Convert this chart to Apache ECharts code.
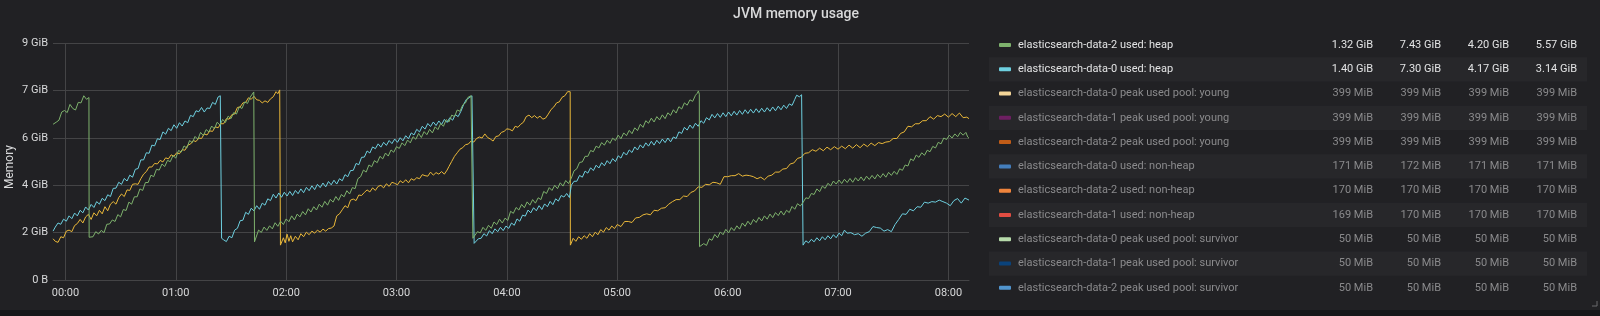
<!DOCTYPE html>
<html>
<head>
<meta charset="utf-8">
<script src="https://cdn.jsdelivr.net/npm/echarts@6/dist/echarts.min.js"></script>
<style>
html,body{margin:0;padding:0;background:#161719;}
#chart{width:1600px;height:316px;}
</style>
</head>
<body>
<div id="chart"></div>
<script>
// ---- data (minutes from 00:00, GiB) ----
const data2Heap = [
[-6.7,6.12],[-5,6.20],[-3.5,6.28],[-2,6.60],[-0.5,6.66],[1,6.58],[2.5,6.90],[4,6.74],[5.5,6.68],[7,6.98],[8.5,6.96],[10,7.24],[11.5,7.10],[12.8,7.17],[12.9,1.68],
[13.5,1.73],[15,1.70],[16.5,1.90],[18,1.81],[19.5,1.95],[21,1.86],[22.5,2.19],[24,2.20],[25.5,2.36],[27,2.30],[28.5,2.57],[30,2.48],[31.5,2.77],[33,2.73],[34.5,3.06],[36,2.98],[37.5,3.27],[39,3.27],[40.5,3.58],[42,3.52],[43.5,3.83],[45,3.83],[46.5,4.12],[48,4.06],[49.5,4.35],[51,4.32],[52.5,4.56],[54,4.46],[55.5,4.70],[57,4.65],[58.5,4.89],[60,4.79],[61.5,5.09],[63,5.03],[64.5,5.27],[66,5.18],[67.5,5.48],[69,5.40],[70.5,5.64],[72,5.53],[73.5,5.80],[75,5.67],[76.5,5.91],[78,5.82],[79.5,6.05],[81,5.94],[82.5,6.20],[84,6.09],[85.5,6.31],[87,6.19],[88.5,6.44],[90,6.34],[91.5,6.58],[93,6.52],[94.5,6.80],[96,6.74],[97.5,7.00],[99,6.94],[100.5,7.19],[101.5,7.15],[102.4,7.39],[102.8,1.50],
[103.5,1.55],[105,1.96],[106.5,1.87],[108,2.08],[109.5,1.95],[111,2.13],[112.5,2.01],[114,2.25],[115.5,2.11],[117,2.31],[118.5,2.18],[120,2.40],[121.5,2.29],[123,2.52],[124.5,2.36],[126,2.59],[127.5,2.48],[129,2.69],[130.5,2.56],[132,2.80],[133.5,2.67],[135,2.88],[136.5,2.75],[138,2.98],[139.5,2.86],[141,3.09],[142.5,2.94],[144,3.17],[145.5,3.06],[147,3.28],[148.5,3.13],[150,3.36],[151.5,3.27],[153,3.51],[154.5,3.38],[156,3.63],[157.5,3.59],[159,3.98],[160.5,4.06],[162,4.32],[163.5,4.24],[165,4.52],[166.5,4.45],[168,4.69],[169.5,4.61],[171,4.86],[172.5,4.76],[174,4.99],[175.5,4.87],[177,5.11],[178.5,5.02],[180,5.24],[181.5,5.17],[183,5.39],[184.5,5.28],[186,5.50],[187.5,5.39],[189,5.63],[190.5,5.53],[192,5.76],[193.5,5.60],[195,5.83],[196.5,5.71],[198,5.92],[199.5,5.78],[201,6.02],[202.5,5.91],[204,6.15],[205.5,6.04],[207,6.30],[208.5,6.21],[210,6.48],[211.5,6.42],[213,6.68],[214.5,6.63],[216,6.88],[217.5,6.96],[219,7.19],[220.5,7.24],[221.3,7.18],[221.5,1.64],
[222.5,1.70],[224,1.90],[225.5,1.85],[227,2.07],[228.5,1.95],[230,2.15],[231.5,2.03],[233,2.28],[234.5,2.18],[236,2.39],[237.5,2.24],[239,2.43],[240.5,2.34],[242,2.70],[243.5,2.62],[245,2.85],[246.5,2.75],[248,2.97],[249.5,2.84],[251,3.07],[252.5,2.94],[254,3.16],[255.5,3.02],[257,3.23],[258.5,3.16],[260,3.48],[261.5,3.40],[263,3.63],[264.5,3.52],[266,3.72],[267.5,3.59],[269,3.82],[270.5,3.69],[272,3.91],[273.5,3.79],[275,4.00],[276.5,4.29],[278,4.37],[279.5,4.62],[281,4.64],[282.5,4.86],[284,4.86],[285.5,5.09],[287,5.04],[288.5,5.26],[290,5.19],[291.5,5.40],[293,5.30],[294.5,5.49],[296,5.37],[297.5,5.57],[299,5.48],[300.5,5.69],[302,5.55],[303.5,5.78],[305,5.67],[306.5,5.88],[308,5.75],[309.5,5.98],[311,5.87],[312.5,6.12],[314,6.00],[315.5,6.26],[317,6.16],[318.5,6.36],[320,6.21],[321.5,6.42],[323,6.29],[324.5,6.49],[326,6.34],[327.5,6.57],[329,6.47],[330.5,6.69],[332,6.56],[333.5,6.81],[335,6.72],[336.5,6.96],[338,6.87],[339.5,7.08],[341,7.02],[342.5,7.26],[343.5,7.34],[344.1,7.43],[344.6,7.30],[344.7,1.31],
[345.5,1.33],[347,1.43],[348.5,1.36],[350,1.62],[351.5,1.56],[353,1.79],[354.5,1.66],[356,1.89],[357.5,1.78],[359,1.99],[360.5,1.85],[362,2.06],[363.5,1.94],[365,2.13],[366.5,2.00],[368,2.24],[369.5,2.11],[371,2.31],[372.5,2.17],[374,2.38],[375.5,2.26],[377,2.46],[378.5,2.32],[380,2.52],[381.5,2.39],[383,2.59],[384.5,2.45],[386,2.65],[387.5,2.53],[389,2.71],[390.5,2.55],[392,2.74],[393.5,2.65],[395,2.89],[396.5,2.78],[398,3.00],[399.5,2.91],[401,3.05],[402.5,3.23],[404,3.20],[405.5,3.40],[407,3.36],[408.5,3.58],[410,3.47],[411.5,3.69],[413,3.60],[414.5,3.80],[416,3.70],[417.5,3.89],[419,3.77],[420.5,3.93],[422,3.79],[423.5,3.96],[425,3.83],[426.5,3.99],[428,3.84],[429.5,4.02],[431,3.89],[432.5,4.05],[434,3.90],[435.5,4.08],[437,3.95],[438.5,4.11],[440,3.97],[441.5,4.15],[443,4.02],[444.5,4.18],[446,4.04],[447.5,4.23],[449,4.11],[450.5,4.27],[452,4.15],[453.5,4.37],[455,4.31],[456.5,4.52],[458,4.48],[459.5,4.76],[461,4.69],[462.5,4.91],[464,4.82],[465.5,5.00],[467,4.90],[468.5,5.10],[470,5.04],[471.5,5.25],[473,5.19],[474.5,5.41],[476,5.35],[477.5,5.58],[479,5.52],[480.5,5.69],[482,5.58],[483.5,5.74],[485,5.63],[486.5,5.80],[488,5.69],[489.5,5.80],[490.5,5.62],[491.2,5.57]
];
const data0Heap = [
[-6.7,1.92],[-5.5,2.08],[-4,2.24],[-2.5,2.19],[-1,2.39],[0.5,2.31],[2,2.52],[3.5,2.41],[5,2.63],[6.5,2.52],[8,2.74],[9.5,2.64],[11,2.87],[12.5,2.75],[14,2.97],[15.5,2.85],[17,3.08],[18.5,2.98],[20,3.21],[21.5,3.12],[23,3.35],[24.5,3.28],[26,3.60],[27.5,3.61],[29,3.84],[30.5,3.76],[32,3.99],[33.5,3.89],[35,4.12],[36.5,4.04],[38,4.35],[39.5,4.38],[41,4.72],[42.5,4.72],[44,5.00],[45.5,4.98],[47,5.30],[48.5,5.27],[50,5.55],[51.5,5.52],[53,5.82],[54.5,5.73],[56,5.96],[57.5,5.87],[59,6.10],[60.5,5.96],[62,6.18],[63.5,6.05],[65,6.25],[66.5,6.18],[68,6.47],[69.5,6.42],[71,6.65],[72.5,6.61],[74,6.78],[75.5,6.60],[77,6.76],[78.5,6.74],[80,6.98],[81.5,6.90],[83,7.19],[84.2,7.24],[84.8,7.20],[84.9,1.64],
[86,1.58],[87.5,1.51],[89,1.72],[90.5,1.66],[92,1.96],[93.5,2.03],[95,2.33],[96.5,2.35],[98,2.66],[99.5,2.58],[101,2.82],[102.5,2.72],[104,2.92],[105.5,2.78],[107,3.02],[108.5,2.94],[110,3.19],[111.5,3.12],[113,3.37],[114.5,3.22],[116,3.42],[117.5,3.25],[119,3.45],[120.5,3.30],[122,3.48],[123.5,3.32],[125,3.52],[126.5,3.39],[128,3.58],[129.5,3.43],[131,3.64],[132.5,3.51],[134,3.70],[135.5,3.55],[137,3.76],[138.5,3.63],[140,3.81],[141.5,3.66],[143,3.87],[144.5,3.74],[146,3.92],[147.5,3.77],[149,3.98],[150.5,3.90],[152,4.14],[153.5,4.06],[155,4.30],[156.5,4.31],[158,4.58],[159.5,4.53],[161,4.82],[162.5,4.83],[164,5.07],[165.5,4.99],[167,5.23],[168.5,5.16],[170,5.35],[171.5,5.22],[173,5.41],[174.5,5.29],[176,5.48],[177.5,5.36],[179,5.54],[180.5,5.41],[182,5.59],[183.5,5.47],[185,5.67],[186.5,5.55],[188,5.78],[189.5,5.70],[191,5.92],[192.5,5.82],[194,6.04],[195.5,5.93],[197,6.15],[198.5,6.03],[200,6.21],[201.5,6.07],[203,6.25],[204.5,6.11],[206,6.31],[207.5,6.19],[209,6.38],[210.5,6.28],[212,6.50],[213.5,6.42],[215,6.63],[216.5,6.90],[218,7.10],[219.5,7.16],[221,7.24],[222,7.18],[222.2,1.44],
[223,1.44],[224.5,1.62],[226,1.64],[227.5,1.82],[229,1.73],[230.5,1.94],[232,1.82],[233.5,2.01],[235,1.90],[236.5,2.07],[238,1.94],[239.5,2.12],[241,2.03],[242.5,2.24],[244,2.15],[245.5,2.40],[247,2.31],[248.5,2.55],[250,2.51],[251.5,2.75],[253,2.64],[254.5,2.84],[256,2.72],[257.5,2.92],[259,2.77],[260.5,2.99],[262,2.88],[263.5,3.09],[265,2.96],[266.5,3.19],[268,3.10],[269.5,3.32],[271,3.26],[272.5,3.40],[274,3.24],[275,3.72],[276.5,3.88],[278,3.88],[279.5,4.11],[281,4.04],[282.5,4.28],[284,4.20],[285.5,4.41],[287,4.30],[288.5,4.51],[290,4.40],[291.5,4.61],[293,4.49],[294.5,4.69],[296,4.57],[297.5,4.77],[299,4.65],[300.5,4.88],[302,4.79],[303.5,5.02],[305,4.91],[306.5,5.11],[308,5.01],[309.5,5.23],[311,5.11],[312.5,5.31],[314,5.19],[315.5,5.39],[317,5.26],[318.5,5.45],[320,5.30],[321.5,5.49],[323,5.36],[324.5,5.54],[326,5.40],[327.5,5.58],[329,5.43],[330.5,5.62],[332,5.56],[333.5,5.82],[335,5.76],[336.5,6.00],[338,5.89],[339.5,6.09],[341,5.96],[342.5,6.16],[344,6.04],[345.5,6.26],[347,6.16],[348.5,6.38],[350,6.29],[351.5,6.51],[353,6.37],[354.5,6.54],[356,6.39],[357.5,6.57],[359,6.42],[360.5,6.60],[362,6.45],[363.5,6.63],[365,6.48],[366.5,6.66],[368,6.51],[369.5,6.69],[371,6.54],[372.5,6.71],[374,6.56],[375.5,6.73],[377,6.58],[378.5,6.75],[380,6.60],[381.5,6.77],[383,6.63],[384.5,6.80],[386,6.65],[387.5,6.83],[389,6.69],[390.5,6.87],[392,6.74],[393.5,6.92],[395,6.86],[396.5,7.10],[397.5,7.26],[399,7.20],[400.2,7.28],[400.9,7.26],[401,1.37],
[401.5,1.40],[402.5,1.54],[404,1.46],[405.5,1.60],[407,1.50],[408.5,1.66],[410,1.54],[411.5,1.70],[413,1.58],[414.5,1.74],[416,1.62],[417.5,1.78],[419,1.66],[420.5,1.84],[422,1.74],[423.5,1.96],[425,1.84],[427,1.86],[429,1.78],[431,1.82],[433,1.72],[435,1.84],[437,1.90],[439,2.10],[441,2.06],[443,2.04],[445,1.92],[447,1.98],[449,1.90],[451,2.18],[453,2.38],[455,2.60],[457,2.58],[459,2.78],[461,2.72],[463,2.88],[465,2.86],[467,3.06],[469,3.02],[471,3.08],[473,3.06],[475,3.14],[477,3.08],[479,3.02],[481,2.92],[483,3.12],[485,3.20],[487,3.02],[489,3.22],[491.2,3.14]
];
const data1Heap = [
[-6.7,1.62],[-5.5,1.52],[-4,1.48],[-2.5,1.70],[-1,1.66],[0.5,1.92],[2,1.96],[3.5,1.90],[5,2.14],[6.5,2.22],[8,2.38],[9.5,2.24],[11,2.48],[12.5,2.58],[14,2.38],[15.5,2.64],[17,2.52],[18.5,2.74],[20,2.60],[21.5,2.88],[23,2.72],[24.5,2.98],[26,3.08],[27.5,2.98],[29,3.24],[30.5,3.38],[32,3.28],[33.5,3.54],[35,3.52],[36.5,3.76],[38,3.78],[39.5,3.76],[41,3.98],[42.5,4.16],[44,4.26],[45.5,4.44],[47,4.44],[48.5,4.58],[50,4.56],[51.5,4.70],[53,4.64],[54.5,4.80],[56,4.76],[57.5,4.92],[59,4.86],[60.5,5.00],[62,4.96],[63.5,5.12],[65,5.10],[66.5,5.30],[68,5.34],[69.5,5.48],[71,5.44],[72.5,5.58],[74,5.56],[75.5,5.74],[77,5.70],[78.5,5.86],[80,5.84],[81.5,6.02],[83,5.98],[84.5,6.14],[86,6.14],[87.5,6.34],[89,6.32],[90.5,6.50],[92,6.52],[93.5,6.78],[95,6.80],[96.5,6.96],[98,6.98],[99.5,7.16],[101,7.10],[102.5,7.22],[104,7.08],[105.5,7.06],[107,6.96],[108.5,7.04],[110,6.98],[111.5,7.12],[113,7.20],[114.5,7.40],[115.5,7.32],[116.5,7.47],[116.9,1.37],
[117.5,1.40],[118.5,1.66],[119.5,1.46],[120.5,1.80],[121.5,1.52],[122.5,1.74],[123.5,1.50],[125,1.72],[126.5,1.58],[128,1.82],[129.5,1.70],[131,1.88],[132.5,1.78],[134,1.92],[135.5,1.84],[137,1.96],[138.5,1.88],[140,2.00],[141.5,1.92],[143,2.02],[144.5,2.04],[146,2.12],[147.5,2.52],[149,2.60],[150.5,2.76],[152,2.92],[153.5,2.84],[155,3.14],[156.5,3.18],[158,3.12],[159.5,3.34],[161,3.32],[162.5,3.44],[164,3.54],[165.5,3.46],[167,3.62],[168.5,3.52],[170,3.68],[171.5,3.72],[173,3.62],[174.5,3.78],[176,3.68],[177.5,3.84],[179,3.80],[180.5,3.74],[182,3.90],[183.5,3.82],[185,3.94],[186.5,3.82],[188,3.98],[189.5,3.92],[191,4.02],[192.5,3.98],[194,4.14],[195.5,4.10],[197,4.08],[198.5,4.24],[200,4.12],[201.5,4.22],[203,4.16],[204.5,4.26],[206,4.16],[207.5,4.32],[208.5,4.46],[210,4.66],[211.5,4.86],[213,5.00],[214.5,5.14],[216,5.20],[217.5,5.32],[219,5.34],[220.5,5.46],[222,5.42],[223.5,5.56],[225,5.62],[226.5,5.58],[228,5.74],[229.5,5.60],[231,5.54],[232.5,5.46],[234,5.64],[235.5,5.66],[237,5.80],[238.5,5.84],[240,5.94],[241.5,5.92],[243,5.86],[244.5,6.04],[246,6.00],[247.5,6.12],[249,6.20],[250.5,6.42],[252,6.48],[253.5,6.38],[255,6.46],[256.5,6.36],[258,6.44],[259.5,6.32],[261,6.36],[262.5,6.52],[264,6.70],[265.5,6.80],[267,6.96],[268.5,7.00],[270,7.18],[271.5,7.24],[273,7.40],[274,7.45],[274.4,7.40],[274.5,1.37],
[275,1.45],[276,1.64],[277.5,1.52],[279,1.70],[280.5,1.60],[282,1.74],[283.5,1.64],[285,1.82],[286.5,1.70],[288,1.88],[289.5,1.78],[291,1.98],[292.5,1.88],[294,2.06],[295.5,1.96],[297,2.12],[298.5,2.02],[300,2.18],[302,2.10],[304,2.30],[306,2.30],[308,2.26],[310,2.44],[312,2.46],[314,2.56],[316,2.60],[318,2.56],[320,2.74],[322,2.72],[324,2.82],[326,2.84],[328,2.98],[330,3.08],[332,3.16],[334,3.16],[336,3.30],[338,3.28],[340,3.44],[342,3.50],[344,3.66],[346,3.64],[348,3.76],[350,3.74],[352,3.84],[354,3.82],[356,3.76],[358,4.06],[360,4.06],[362,4.10],[364,4.10],[366,4.18],[368,4.08],[370,4.12],[372,4.10],[374,4.06],[376,3.98],[378,4.04],[380,3.94],[382,4.08],[384,4.12],[386,4.24],[388,4.24],[390,4.36],[392,4.38],[394,4.56],[396,4.60],[398,4.78],[400,4.82],[402,4.98],[404,5.00],[406,5.12],[408,5.06],[410,5.18],[412,5.08],[414,5.22],[416,5.12],[418,5.24],[420,5.14],[422,5.26],[424,5.16],[426,5.30],[428,5.18],[430,5.32],[432,5.20],[434,5.34],[436,5.24],[438,5.38],[440,5.28],[442,5.40],[444,5.36],[446,5.42],[448,5.44],[450,5.56],[452,5.56],[454,5.76],[456,5.82],[458,6.04],[460,6.02],[462,6.14],[464,6.14],[466,6.26],[468,6.26],[470,6.42],[472,6.32],[474,6.46],[476,6.42],[478,6.52],[480,6.40],[482,6.54],[484,6.42],[486,6.56],[488,6.38],[490,6.40],[491.2,6.34]
];

const xRange = [-6.74, 491.2];            // minutes
const hourTicks = [0, 1, 2, 3, 4, 5, 6, 7, 8];
const yTickStep = 2e9 / Math.pow(2, 30);   // 2 GB in GiB
const yTickCount = 5;

const legendNames = [
  'elasticsearch-data-2 used: heap',
  'elasticsearch-data-0 used: heap',
  'elasticsearch-data-0 peak used pool: young',
  'elasticsearch-data-1 peak used pool: young',
  'elasticsearch-data-2 peak used pool: young',
  'elasticsearch-data-0 used: non-heap',
  'elasticsearch-data-2 used: non-heap',
  'elasticsearch-data-1 used: non-heap',
  'elasticsearch-data-0 peak used pool: survivor',
  'elasticsearch-data-1 peak used pool: survivor',
  'elasticsearch-data-2 peak used pool: survivor'
];
const legendMin = ['1.32 GiB','1.40 GiB','399 MiB','399 MiB','399 MiB','171 MiB','170 MiB','169 MiB','50 MiB','50 MiB','50 MiB'];
const legendMax = ['7.43 GiB','7.30 GiB','399 MiB','399 MiB','399 MiB','172 MiB','170 MiB','170 MiB','50 MiB','50 MiB','50 MiB'];
const legendAvg = ['4.20 GiB','4.17 GiB','399 MiB','399 MiB','399 MiB','171 MiB','170 MiB','170 MiB','50 MiB','50 MiB','50 MiB'];
const legendCur = ['5.57 GiB','3.14 GiB','399 MiB','399 MiB','399 MiB','171 MiB','170 MiB','170 MiB','50 MiB','50 MiB','50 MiB'];
const legendOn  = [true,true,false,false,false,false,false,false,false,false,false];

// ---- styles ----
const legendColors = ['#7EB26D','#6ED0E0','#F4D598','#6D1F62','#C15C17','#447EBC','#EF843C','#E24D42','#B7DBAB','#0A437C','#5195CE'];
const lineColors = {green:'#7EB26D', cyan:'#6ED0E0', yellow:'#EAB839'};
const GRID = '#444446';

const base = new Date(2020, 0, 1, 0, 0, 0).getTime();
const toTime = arr => arr.map(p => [base + p[0] * 60000, p[1]]);
const pad = n => (n < 10 ? '0' : '') + n;

const FONT = 'Roboto, "Noto Sans", sans-serif';
const graphics = [];
graphics.push({type:'rect', silent:true, shape:{x:0, y:310, width:1600, height:6}, style:{fill:'#161719'}});
graphics.push({type:'text', silent:true, x:796, y:14, style:{text:'JVM memory usage', font:'500 14px ' + FONT, fill:'#d8d9da', align:'center', verticalAlign:'middle', textAlign:'center', textVerticalAlign:'middle'}});
graphics.push({type:'text', silent:true, x:10, y:167, rotation:Math.PI/2, style:{text:'Memory', font:'12px ' + FONT, fill:'#d8d9da', align:'center', verticalAlign:'middle', textAlign:'center', textVerticalAlign:'middle'}});

const rowY0 = 45, rowH = 24.28;
const colX = [1373, 1441, 1509, 1577];
legendNames.forEach((name, i) => {
  const cy = rowY0 + i * rowH;
  if (i % 2 === 1) {
    graphics.push({type:'rect', silent:true, shape:{x:989, y:cy - rowH/2, width:598, height:rowH}, style:{fill:'#27272a'}});
  }
  graphics.push({type:'rect', silent:true, shape:{x:999, y:cy - 2, width:12, height:4, r:1}, style:{fill:legendColors[i]}});
  const fill = legendOn[i] ? '#e2e3e4' : '#8a8a8c';
  graphics.push({type:'text', silent:true, x:1018, y:cy, style:{text:name, font:'11px ' + FONT, fill:fill, align:'left', verticalAlign:'middle', textAlign:'left', textVerticalAlign:'middle'}});
  [legendMin[i], legendMax[i], legendAvg[i], legendCur[i]].forEach((v, k) => {
    graphics.push({type:'text', silent:true, x:colX[k], y:cy, style:{text:v, font:'11px ' + FONT, fill:fill, align:'right', verticalAlign:'middle', textAlign:'right', textVerticalAlign:'middle'}});
  });
});
graphics.push({type:'polyline', silent:true, shape:{points:[[1597,301],[1597,306],[1592,306]]}, style:{stroke:'#6a6a6c', lineWidth:1, fill:null}});

const chart = echarts.init(document.getElementById('chart'), null, {renderer:'canvas'});
const mkSeries = (name, arr, color, extra) => Object.assign({
  name, type:'line', data:toTime(arr), showSymbol:false, symbol:'none',
  lineStyle:{width:1, color}, itemStyle:{color}, animation:false, silent:true, z:3
}, extra || {});
chart.setOption({
  backgroundColor:'#212124',
  animation:false,
  grid:{left:53, right:631, top:43, bottom:36, containLabel:false},
  xAxis:{
    type:'time',
    min: base + xRange[0] * 60000,
    max: base + xRange[1] * 60000,
    minInterval: 3600000, maxInterval: 3600000,
    axisLine:{show:true, lineStyle:{color:GRID, width:1}},
    axisTick:{show:false},
    splitLine:{show:false},
    axisLabel:{color:'#d8d9da', fontSize:11, fontFamily:FONT, margin:8,
      formatter: v => { const d = new Date(v); return pad(d.getHours()) + ':' + pad(d.getMinutes()); }}
  },
  yAxis:{
    type:'value', min:0, max:yTickStep * yTickCount, interval:yTickStep,
    axisLine:{show:false}, axisTick:{show:false},
    splitLine:{show:true, lineStyle:{color:GRID, width:1}},
    axisLabel:{color:'#d8d9da', fontSize:11, fontFamily:FONT, margin:5,
      formatter: v => v < 1e-6 ? '0 B' : Math.round(v) + ' GiB'}
  },
  series:[
    mkSeries('elasticsearch-data-1 used: heap', data1Heap, lineColors.yellow, {
      markLine:{
        silent:true, z:1, animation:false, symbol:['none','none'],
        label:{show:false}, emphasis:{disabled:true},
        lineStyle:{color:GRID, width:1, type:'solid'},
        data: hourTicks.map(h => ({xAxis: base + h * 3600000}))
      }
    }),
    mkSeries('elasticsearch-data-0 used: heap', data0Heap, lineColors.cyan),
    mkSeries('elasticsearch-data-2 used: heap', data2Heap, lineColors.green)
  ],
  graphic:graphics
});
</script>
</body>
</html>
